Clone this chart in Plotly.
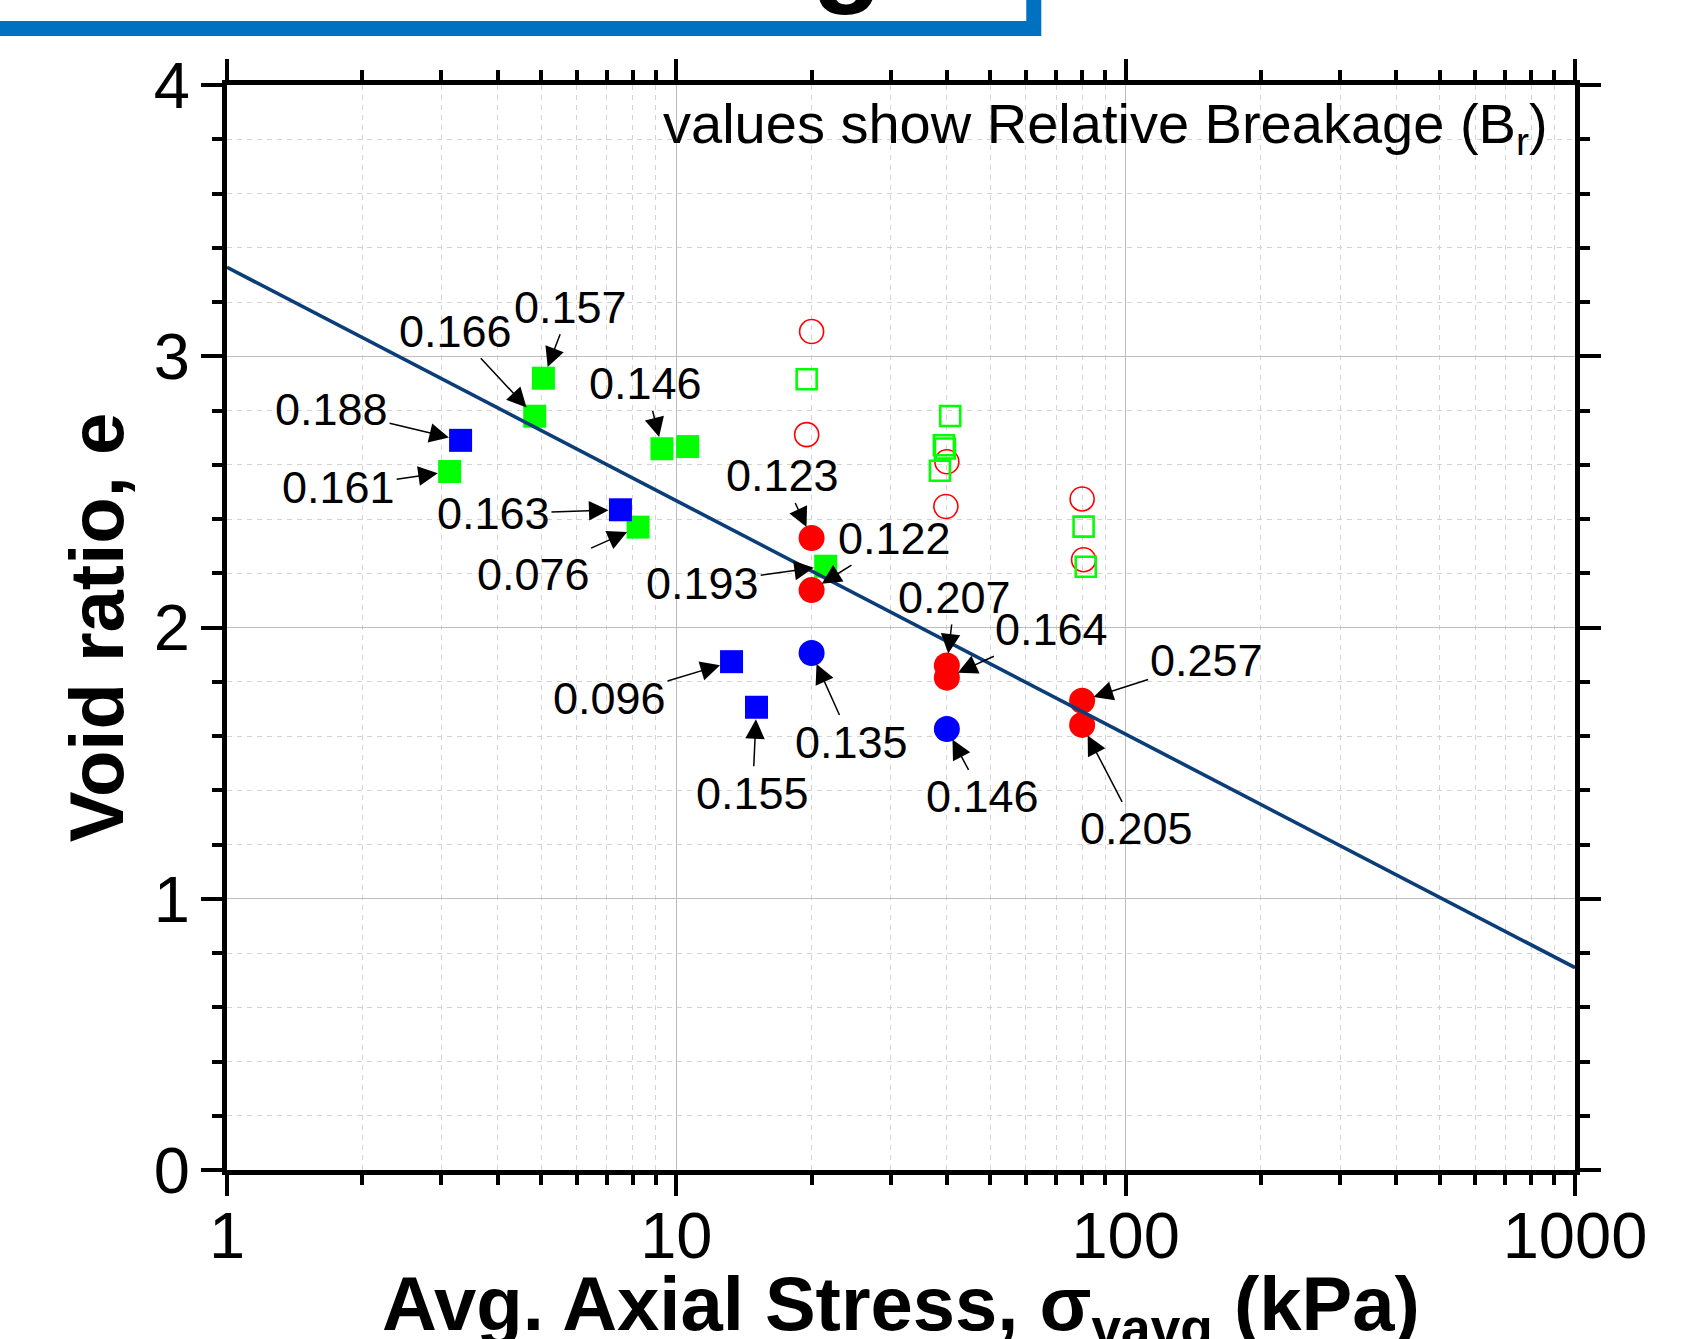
import math
import plotly.graph_objects as go

# ---- data: average axial stress (kPa) and void ratio e ----
# filled blue squares
bs_x = [3.31, 7.51, 13.27, 15.08]
bs_y = [2.690, 2.434, 1.874, 1.706]
bs_br = [0.188, 0.163, 0.096, 0.155]

# filled green squares
gs_x = [3.13, 4.84, 5.06, 8.22, 9.29, 10.6, 21.5]
gs_y = [2.575, 2.779, 2.919, 2.370, 2.659, 2.667, 2.226]
gs_br = [0.161, 0.166, 0.157, 0.076, 0.146, None, 0.193]

# filled red circles
rc_x = [20.0, 20.0, 40.0, 40.0, 80.0, 80.0]
rc_y = [2.330, 2.138, 1.860, 1.815, 1.730, 1.641]
rc_br = [0.123, 0.122, 0.207, 0.164, 0.257, 0.205]

# filled blue circles
bc_x = [20.0, 40.0]
bc_y = [1.906, 1.626]
bc_br = [0.135, 0.146]

# open red circles
orc_x = [20.0, 19.5, 40.0, 39.8, 80.0, 80.6]
orc_y = [3.091, 2.711, 2.611, 2.446, 2.474, 2.250]

# open green squares
ogs_x = [19.5, 40.7, 39.4, 39.6, 38.6, 80.6, 81.5]
ogs_y = [2.915, 2.780, 2.672, 2.660, 2.578, 2.372, 2.224]

# trend line
line_x = [1, 1000]
line_y = [3.328, 0.746]

# axis ticks
x_tickvals = [1, 10, 100, 1000]
x_ticktext = ["1", "10", "100", "1000"]
x_minor = [m * 10 ** d for d in range(3) for m in range(2, 10)]
y_tickvals = [0, 1, 2, 3, 4]

# label offsets (pixels) from each marker to its Br label
bs_off = [(-129, -31), (-127, 4), (-122, 37), (-4, 86)]
gs_off = [(-111, 16), (-79, -85), (27, -71), (-105, 47), (-16, -65), None, (-123, 17)]
rc_off = [(-29, -62), (83, -52), (8, -68), (105, -48), (124, -40), (54, 104)]
bc_off = [(40, 89), (36, 68)]

BLUE = "#0000FF"
GREEN = "#00FF00"
RED = "#FF0000"
FONT = "Liberation Sans, Arial, sans-serif"

fig = go.Figure()

fig.add_trace(go.Scatter(x=orc_x, y=orc_y, mode="markers",
                         marker=dict(symbol="circle-open", size=24, color=RED,
                                     line=dict(width=1.6, color=RED))))
fig.add_trace(go.Scatter(x=ogs_x, y=ogs_y, mode="markers",
                         marker=dict(symbol="square-open", size=20, color=GREEN,
                                     line=dict(width=2.6, color=GREEN))))
fig.add_trace(go.Scatter(x=gs_x, y=gs_y, mode="markers",
                         marker=dict(symbol="square", size=23, color=GREEN, line=dict(width=0))))
fig.add_trace(go.Scatter(x=bs_x, y=bs_y, mode="markers",
                         marker=dict(symbol="square", size=23, color=BLUE, line=dict(width=0))))
fig.add_trace(go.Scatter(x=rc_x, y=rc_y, mode="markers",
                         marker=dict(symbol="circle", size=26, color=RED, line=dict(width=0))))
fig.add_trace(go.Scatter(x=bc_x, y=bc_y, mode="markers",
                         marker=dict(symbol="circle", size=26, color=BLUE, line=dict(width=0))))
fig.add_trace(go.Scatter(x=line_x, y=line_y, mode="lines",
                         line=dict(color="#0B3D78", width=3.6)))

annotations = []
for xs, ys, brs, offs in [(bs_x, bs_y, bs_br, bs_off), (gs_x, gs_y, gs_br, gs_off),
                          (rc_x, rc_y, rc_br, rc_off), (bc_x, bc_y, bc_br, bc_off)]:
    for xv, yv, br, off in zip(xs, ys, brs, offs):
        if br is None:
            continue
        annotations.append(dict(
            x=math.log10(xv), y=yv, xref="x", yref="y",
            text=f"{br:.3f}", showarrow=True,
            ax=off[0], ay=off[1],
            arrowhead=2, arrowsize=2.6, arrowwidth=1.5, arrowcolor="black",
            standoff=12,
            font=dict(family=FONT, size=45, color="black"),
        ))

annotations.append(dict(
    x=0.9815, y=0.9955, xref="paper", yref="paper", xanchor="right", yanchor="top",
    text="values show Relative Breakage (B<sub>r</sub>)", showarrow=False,
    font=dict(family=FONT, size=56, color="black"),
))
annotations.append(dict(
    x=0.5, y=-0.082, xref="paper", yref="paper", xanchor="center", yanchor="top",
    text="<b>Avg. Axial Stress, σ<sub>vavg</sub> (kPa)</b>", showarrow=False,
    font=dict(family=FONT, size=76, color="black"),
))
# heading above the plot (mostly off the top edge)
annotations.append(dict(
    x=0.46, y=1.0627, xref="paper", yref="paper", xanchor="center", yanchor="bottom",
    text="<b>g</b>", showarrow=False,
    font=dict(family=FONT, size=115, color="black"),
))

fig.update_layout(
    width=1703, height=1339,
    margin=dict(l=227, r=128, t=85, b=169),
    plot_bgcolor="white", paper_bgcolor="white",
    showlegend=False,
    font=dict(family=FONT, color="black"),
    annotations=annotations,
    shapes=[dict(
        type="rect", xref="paper", yref="paper",
        x0=-0.2, x1=0.5985, y0=1.052, y1=1.2,
        line=dict(color="#0070C0", width=15), fillcolor="rgba(0,0,0,0)",
    )],
)

fig.update_xaxes(
    type="log", range=[0, 3],
    tickmode="array", tickvals=x_tickvals, ticktext=x_ticktext,
    ticks="outside", ticklen=21, tickwidth=4, tickcolor="black",
    showline=True, linewidth=5, linecolor="black", mirror="allticks",
    showgrid=True, gridcolor="#BDBDBD", gridwidth=1.2,
    tickfont=dict(family=FONT, size=65, color="black"),
    ticklabelstandoff=-16,
    minor=dict(tickmode="array", tickvals=x_minor, ticks="outside", ticklen=10,
               tickwidth=4, tickcolor="black", showgrid=True,
               gridcolor="#D3D3D3", gridwidth=1, griddash="5px,5px"),
    zeroline=False, automargin=False,
)

fig.update_yaxes(
    range=[0, 4],
    tickmode="array", tickvals=y_tickvals,
    ticks="outside", ticklen=21, tickwidth=4, tickcolor="black",
    showline=True, linewidth=5, linecolor="black", mirror="allticks",
    showgrid=True, gridcolor="#BDBDBD", gridwidth=1.2,
    tickfont=dict(family=FONT, size=65, color="black"),
    ticklabelstandoff=-2,
    minor=dict(dtick=0.2, ticks="outside", ticklen=10,
               tickwidth=4, tickcolor="black", showgrid=True,
               gridcolor="#D3D3D3", gridwidth=1, griddash="5px,5px"),
    title=dict(text="<b>Void ratio, e</b>", font=dict(family=FONT, size=76, color="black"),
               standoff=7),
    zeroline=False, automargin=False,
)

fig.write_html("out.html")
